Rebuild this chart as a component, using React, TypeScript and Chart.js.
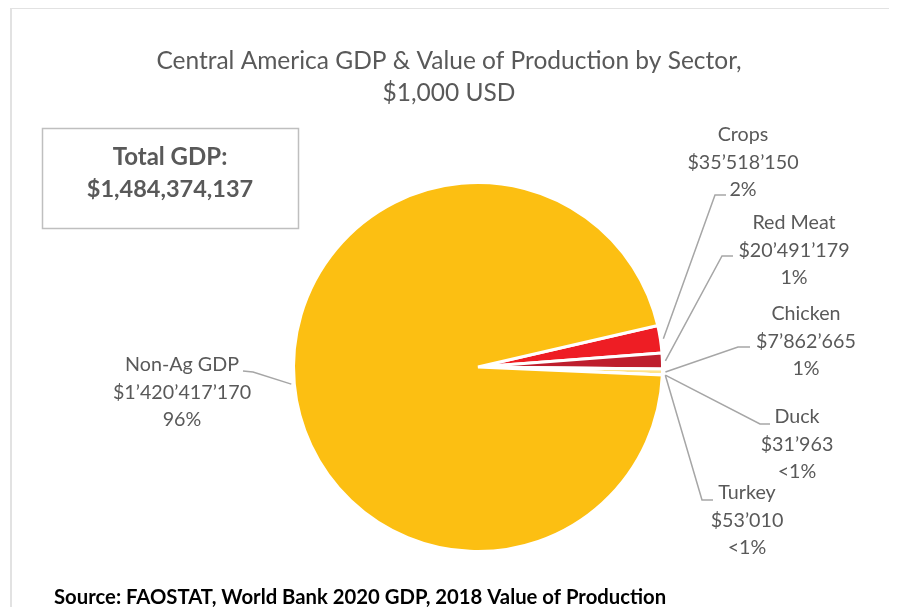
import React, { useEffect, useRef } from "react";
import { Chart, registerables } from "chart.js";

Chart.register(...registerables);

const categories = ["Crops", "Red Meat", "Chicken", "Duck", "Turkey", "Non-Ag GDP"];
const values = [35518150, 20491179, 7862665, 31963, 53010, 1420417170];
const valueLabels = ["$35’518’150", "$20’491’179", "$7’862’665", "$31’963", "$53’010", "$1’420’417’170"];
const percentLabels = ["2%", "1%", "1%", "<1%", "<1%", "96%"];
const colors = ["#EE1D24", "#BE1E2D", "#FFE38A", "#F4B183", "#FFD966", "#FCBF12"];
const titleLines = ["Central America GDP & Value of Production by Sector,", "$1,000 USD"];
const totalLines = ["Total GDP:", "$1,484,374,137"];
const sourceText = "Source: FAOSTAT, World Bank 2020 GDP, 2018 Value of Production";

// label layout (canvas coords): text center x, first line y, elbow point, line end point
const layout = [
  { tx: 731, ty: 126, ex: 703, ey: 186, lx: 714, ly: 186 },
  { tx: 782, ty: 214, ex: 710, ey: 247, lx: 721, ly: 247 },
  { tx: 794, ty: 305, ex: 726, ey: 338, lx: 738, ly: 338 },
  { tx: 785, ty: 408, ex: 748, ey: 415, lx: 758, ly: 415 },
  { tx: 735, ty: 484, ex: 690, ey: 491, lx: 701, ly: 491 },
  { tx: 170, ty: 356, ex: 241, ey: 363, lx: 231, ly: 362 },
];

const FONT = "Lato, 'Open Sans', sans-serif";

const decorPlugin = {
  id: "decor",
  afterDraw(chart: any) {
    const ctx = chart.ctx as CanvasRenderingContext2D;
    ctx.save();
    // title
    ctx.fillStyle = "#595959";
    ctx.textAlign = "center";
    ctx.textBaseline = "middle";
    ctx.font = `24.5px ${FONT}`;
    ctx.fillText(titleLines[0], 437, 52);
    ctx.fillText(titleLines[1], 437, 84);

    // total box
    ctx.strokeStyle = "#BFBFBF";
    ctx.lineWidth = 1.5;
    ctx.strokeRect(30.5, 119.5, 256, 100);
    ctx.font = `bold 24px ${FONT}`;
    ctx.fillText(totalLines[0], 158, 148);
    ctx.font = `bold 23.5px ${FONT}`;
    ctx.fillText(totalLines[1], 158, 180);

    // source
    ctx.fillStyle = "#000000";
    ctx.textAlign = "left";
    ctx.font = `bold 20.3px ${FONT}`;
    ctx.fillText(sourceText, 42, 588);

    // labels & leader lines
    const meta = chart.getDatasetMeta(0);
    meta.data.forEach((arc: any, i: number) => {
      const p = arc.getProps(["x", "y", "startAngle", "endAngle", "outerRadius"], true);
      const mid = (p.startAngle + p.endAngle) / 2;
      const r = p.outerRadius + 3;
      const sx = p.x + Math.cos(mid) * r;
      const sy = p.y + Math.sin(mid) * r;
      const L = layout[i];
      ctx.strokeStyle = "#A6A6A6";
      ctx.lineWidth = 1.5;
      ctx.beginPath();
      ctx.moveTo(sx, sy);
      ctx.lineTo(L.ex, L.ey);
      ctx.lineTo(L.lx, L.ly);
      ctx.stroke();

      ctx.fillStyle = "#595959";
      ctx.textAlign = "center";
      ctx.font = `19.7px ${FONT}`;
      ctx.fillText(categories[i], L.tx, L.ty);
      ctx.fillText(valueLabels[i], L.tx, L.ty + 27.5);
      ctx.fillText(percentLabels[i], L.tx, L.ty + 55);
    });
    ctx.restore();
  },
};

export default function App() {
  const ref = useRef<HTMLCanvasElement | null>(null);
  useEffect(() => {
    if (!ref.current) return;
    const chart = new Chart(ref.current, {
      type: "pie",
      data: {
        labels: categories,
        datasets: [
          {
            data: values,
            backgroundColor: colors,
            borderColor: "#FFFFFF",
            borderWidth: 3,
          },
        ],
      },
      options: {
        animation: false,
        responsive: false,
        rotation: 77,
        layout: { padding: { left: 280, right: 230, top: 169, bottom: 69 } },
        plugins: {
          legend: { display: false },
          title: { display: false },
          tooltip: { enabled: false },
        },
        events: [],
      },
      plugins: [decorPlugin],
    });
    return () => chart.destroy();
  }, []);

  return (
    <div
      style={{
        marginLeft: 2,
        marginTop: -1,
        width: 886,
        height: 620,
        border: "2px solid #E2E2E2",
        boxSizing: "border-box",
        background: "#FFFFFF",
      }}
    >
      <canvas ref={ref} width={882} height={616} style={{ display: "block", width: 882, height: 616 }} />
    </div>
  );
}
